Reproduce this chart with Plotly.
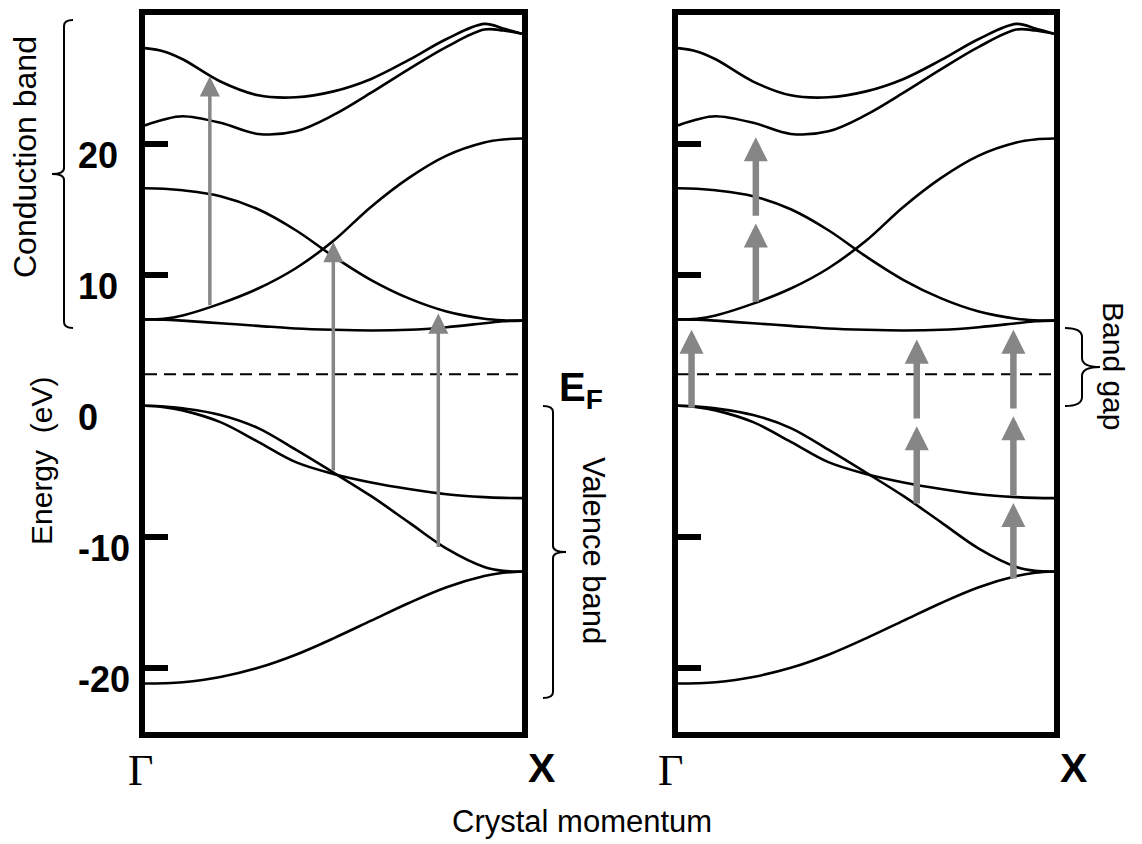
import plotly.graph_objects as go

# ---------------- data ----------------
# crystal momentum from Gamma (0) to X (1)
k = [0, 0.05, 0.1, 0.2, 0.3, 0.4, 0.5, 0.6, 0.7, 0.8, 0.9, 0.95, 1.0]

band_1 = [-21.2, -21.18, -21.1, -20.7, -20.0, -19.0, -17.75, -16.4, -15.05, -13.85, -13.0, -12.75, -12.65]
band_2 = [0.0, -0.1, -0.35, -1.25, -2.75, -4.3, -5.2, -5.85, -6.35, -6.75, -6.97, -7.03, -7.05]
band_3 = [0.0, -0.05, -0.2, -0.7, -1.7, -3.35, -5.1, -6.9, -8.9, -10.9, -12.3, -12.6, -12.65]
band_4 = [6.6, 6.58, 6.5, 6.3, 6.1, 5.9, 5.8, 5.75, 5.8, 6.0, 6.3, 6.45, 6.5]
band_5 = [6.6, 6.65, 6.9, 7.8, 8.95, 10.5, 12.6, 15.2, 17.4, 19.1, 20.1, 20.33, 20.4]
band_6 = [16.6, 16.57, 16.45, 16.0, 15.0, 13.4, 11.4, 9.6, 8.2, 7.2, 6.65, 6.53, 6.5]
band_7 = [21.4, 21.85, 22.1, 21.6, 20.75, 20.95, 22.2, 23.9, 25.7, 27.4, 28.72, 28.65, 28.4]
band_8 = [27.3, 27.05, 26.45, 24.75, 23.7, 23.55, 24.0, 24.95, 26.4, 28.0, 29.15, 28.8, 28.4]
bands = [band_1, band_2, band_3, band_4, band_5, band_6, band_7, band_8]

fermi_level = 2.4

ytick_vals = [20, 10, -10, -20]
ylabel_vals = [20, 10, 0, -10, -20]
ylabel_text = ["20", "10", "0", "-10", "-20"]

# one-photon transitions (left panel)
left_arrow_k = [0.172, 0.4995, 0.778]
left_arrow_from = [7.56, -5.06, -10.9]
left_arrow_to = [25.55, 12.9, 7.44]

# multi-photon transitions (right panel), one entry per photon
right_arrow_k = [0.036, 0.207, 0.207, 0.635, 0.635, 0.892, 0.892, 0.892]
right_arrow_from = [-0.27, 7.82, 14.4, -7.58, -1.09, -13.3, -6.94, -0.32]
right_arrow_to = [6.29, 14.4, 20.97, -1.09, 5.53, -6.94, -0.32, 6.29]

# ---------------- figure ----------------
W, H = 1142, 844
SANS = "Liberation Sans, Arial, sans-serif"
SERIF = "Liberation Serif, Times New Roman, serif"
GRAY = "#868686"


def px(x):
    return x / W


def py(y):
    return 1 - y / H


fig = go.Figure()

for xa, ya in (("x", "y"), ("x2", "y2")):
    for b in bands:
        fig.add_trace(go.Scatter(x=k, y=b, mode="lines", xaxis=xa, yaxis=ya,
                                 line=dict(color="black", width=2.6, shape="spline"),
                                 hoverinfo="skip", showlegend=False))
    fig.add_trace(go.Scatter(x=[0, 1], y=[fermi_level, fermi_level], mode="lines",
                             xaxis=xa, yaxis=ya,
                             line=dict(color="black", width=2, dash="12px,7px"),
                             hoverinfo="skip", showlegend=False))

annotations = []

for xk, y0, y1 in zip(left_arrow_k, left_arrow_from, left_arrow_to):
    aw, asz = 3.5, 1.15
    annotations.append(dict(x=xk, y=y1, ax=xk, ay=y0, xref="x", yref="y", axref="x", ayref="y",
                            text="", showarrow=True, arrowhead=2, arrowwidth=aw, arrowsize=asz,
                            arrowcolor=GRAY, standoff=1.3 * aw * asz))

for xk, y0, y1 in zip(right_arrow_k, right_arrow_from, right_arrow_to):
    aw, asz = 6.5, 0.74
    annotations.append(dict(x=xk, y=y1, ax=xk, ay=y0, xref="x2", yref="y2", axref="x2", ayref="y2",
                            text="", showarrow=True, arrowhead=2, arrowwidth=aw, arrowsize=asz,
                            arrowcolor=GRAY, standoff=1.3 * aw * asz))

# y tick labels (left panel)
for v, t in zip(ylabel_vals, ylabel_text):
    annotations.append(dict(x=px(76), xref="paper", xanchor="left", y=v, yref="y", yanchor="middle",
                            yshift=-12, text="<b>" + t + "</b>", showarrow=False,
                            font=dict(family=SANS, size=36, color="black")))

# Gamma / X labels
for xa, gshift in (("x", -5), ("x2", -8)):
    annotations.append(dict(x=0, xref=xa, xshift=gshift, xanchor="center",
                            y=py(770), yref="paper", yanchor="middle", text="Γ",
                            showarrow=False, font=dict(family=SERIF, size=44, color="black")))
    annotations.append(dict(x=1, xref=xa, xshift=19, xanchor="center",
                            y=py(768), yref="paper", yanchor="middle", text="<b>X</b>",
                            showarrow=False, font=dict(family=SANS, size=41, color="black")))


def label(x, y, text, size, angle=0, **kw):
    d = dict(x=px(x), y=py(y), xref="paper", yref="paper", xanchor="center", yanchor="middle",
             text=text, textangle=angle, showarrow=False,
             font=dict(family=SANS, size=size, color="black"))
    d.update(kw)
    return d


annotations += [
    label(25, 157, "Conduction band", 32, -90),
    label(41, 461, "Energy\u00a0\u00a0(eV)", 30, -90),
    label(594, 550, "Valence band", 31, 90),
    label(1114, 366, "Band gap", 30, 90),
    label(582, 821, "Crystal momentum", 31),
    label(557, 390, "<b>E<sub>F</sub></b>", 40, xanchor="left"),
]


def brace(x_end, x_spine, x_tip, y_top, y_bot, r):
    y_mid = (y_top + y_bot) / 2
    pts = [
        f"M {px(x_end)},{py(y_top)}",
        f"Q {px(x_spine)},{py(y_top)} {px(x_spine)},{py(y_top + r)}",
        f"L {px(x_spine)},{py(y_mid - r)}",
        f"Q {px(x_spine)},{py(y_mid)} {px(x_tip)},{py(y_mid)}",
        f"Q {px(x_spine)},{py(y_mid)} {px(x_spine)},{py(y_mid + r)}",
        f"L {px(x_spine)},{py(y_bot - r)}",
        f"Q {px(x_spine)},{py(y_bot)} {px(x_end)},{py(y_bot)}",
    ]
    return dict(type="path", xref="paper", yref="paper", path=" ".join(pts),
                line=dict(color="black", width=2))


shapes = [
    brace(73, 64, 52, 20, 328, 6),
    brace(543, 553, 566, 406, 698, 6),
    brace(1065, 1082, 1100, 328, 406, 9),
]

yrange = [-24.9, 29.83]
axis_common = dict(showline=True, linewidth=6, linecolor="black", mirror=True,
                   showgrid=False, zeroline=False)

fig.update_layout(
    width=W, height=H,
    margin=dict(l=0, r=0, t=0, b=0),
    paper_bgcolor="white", plot_bgcolor="white",
    showlegend=False,
    xaxis=dict(domain=[px(145), px(522)], range=[0, 1], anchor="y",
               showticklabels=False, ticks="", **axis_common),
    yaxis=dict(domain=[py(732), py(15)], range=yrange, anchor="x",
               tickvals=ytick_vals, ticks="inside", ticklen=23, tickwidth=6, tickcolor="black",
               showticklabels=False, **axis_common),
    xaxis2=dict(domain=[px(678), px(1054)], range=[0, 1], anchor="y2",
                showticklabels=False, ticks="", **axis_common),
    yaxis2=dict(domain=[py(732), py(15)], range=yrange, anchor="x2",
                tickvals=ytick_vals, ticks="inside", ticklen=23, tickwidth=6, tickcolor="black",
                showticklabels=False, **axis_common),
    annotations=annotations,
    shapes=shapes,
)

# the page's default 8px body margin would shift the whole figure
fig.write_html("out.html", config={"displayModeBar": False},
               post_script="document.body.style.margin='0px';")
